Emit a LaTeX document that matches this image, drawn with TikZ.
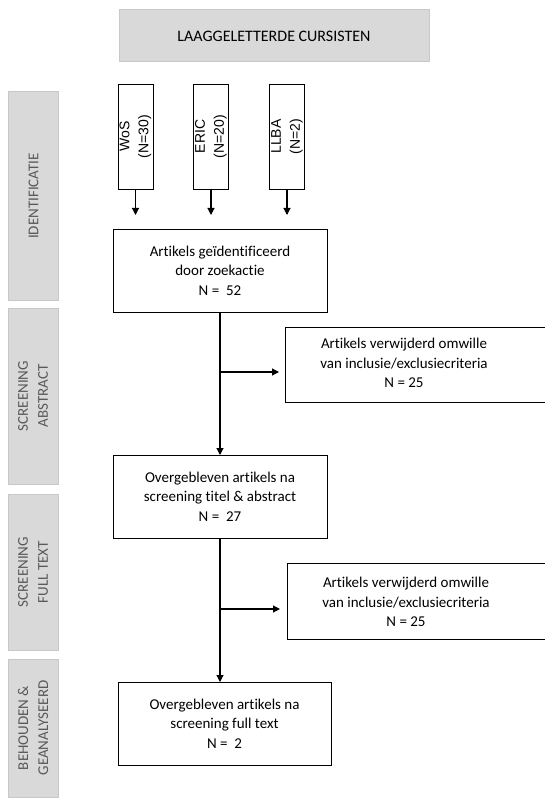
\documentclass[tikz,border=0pt]{standalone}
\usepackage{fontspec}
\setmainfont{Carlito}[Ligatures=NoCommon]
\newfontfamily\arialfont{Liberation Sans}
\usetikzlibrary{arrows.meta}

\definecolor{bargray}{RGB}{217,217,217}
\definecolor{barline}{RGB}{200,200,200}
\definecolor{bartext}{RGB}{89,89,89}

\tikzset{
    every node/.style={font=\fontsize{15}{19.5}\selectfont, inner sep=0pt, outer sep=0pt},
    bar/.style={fill=bargray, draw=barline, line width=1pt},
    sidebar/.style={bar, rotate=90, minimum height=50, text=bartext, align=center,
        font=\fontsize{15}{20}\selectfont},
    flowbox/.style={draw, line width=0.9pt, align=center, minimum width=214, minimum height=83},
    srcbox/.style={draw, line width=0.9pt, rotate=90, align=center, minimum width=105, minimum height=35,
        font=\arialfont\fontsize{14}{19}\selectfont},
    exclbox/.style={draw, line width=0.9pt, minimum width=275, minimum height=75},
    arr/.style={-{Triangle[length=7pt,width=7pt]}, line width=1.1pt},
}

\begin{document}
\begin{tikzpicture}[x=1pt, y=-1pt]

        \path[use as bounding box, clip] (0,0) rectangle (545,799);

        \node[bar, minimum width=310, minimum height=52, font=\fontsize{16}{20}\selectfont] (top) at (274, 36) {LAAGGELETTERDE CURSISTEN};

        \node[sidebar, minimum width=208] (ident) at (33.5, 196) {IDENTIFICATIE};
        \node[sidebar, minimum width=176] (scrab) at (33, 396) {SCREENING\\ABSTRACT};
        \node[sidebar, minimum width=156] (scrft) at (33, 572) {SCREENING\\FULL TEXT};
        \node[sidebar, minimum width=138] (behoud) at (33, 728) {BEHOUDEN \&\\GEANALYSEERD};

        \node[srcbox] (wos) at (135.5, 136.5) {WoS\\(N=30)};
        \node[srcbox] (eric) at (211, 136.5) {ERIC\\(N=20)};
        \node[srcbox] (llba) at (287, 136.5) {LLBA\\(N=2)};

        \node[flowbox] (b1) at (220, 270.5) {Artikels geïdentificeerd\\door zoekactie\\N =~~52};
        \node[flowbox] (b2) at (220, 496.5) {Overgebleven artikels na\\screening titel \& abstract\\N =~~27};
        \node[flowbox, minimum width=213] (b3) at (224.5, 723.5) {Overgebleven artikels na\\screening full text\\N =~~2};

        \node[exclbox] (ex1) at (422.5, 364.5) {};
        \node[align=center] (ex1txt) at (404, 363) {Artikels verwijderd omwille\\van inclusie/exclusiecriteria\\N = 25};
        \node[exclbox, minimum width=273, minimum height=76] (ex2) at (423.5, 601) {};
        \node[align=center] (ex2txt) at (406, 602) {Artikels verwijderd omwille\\van inclusie/exclusiecriteria\\N = 25};

        \foreach \s in {wos, eric, llba}
            \draw[arr, shorten >=14pt] (\s.west) -- (\s.west |- b1.north);

        \coordinate (j1) at (220, 372);
        \coordinate (j2) at (221, 609);

        \draw[arr] (b1.south) -- (b2.north);
        \draw[arr, shorten >=6pt] (j1) -- (j1 -| ex1.west);
        \draw[arr] (b2.south) -- (b2.south |- b3.north);
        \draw[arr, shorten >=7pt] (j2) -- (j2 -| ex2.west);

    \end{tikzpicture}
\end{document}
